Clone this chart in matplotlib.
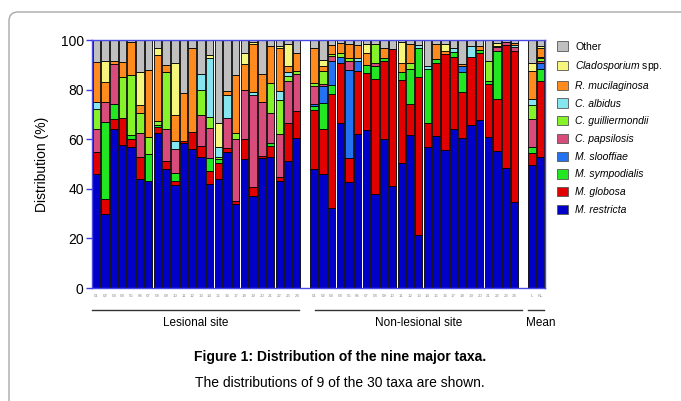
import numpy as np
import matplotlib.pyplot as plt
from matplotlib.patches import FancyBboxPatch, Patch
from matplotlib.transforms import IdentityTransform, blended_transform_factory

plt.rcParams['font.family'] = ['Liberation Sans', 'DejaVu Sans']
plt.rcParams['mathtext.fontset'] = 'custom'
plt.rcParams['mathtext.it'] = 'Liberation Sans:italic'
plt.rcParams['mathtext.rm'] = 'Liberation Sans'

#%% Data: 24 lesional, 24 non-lesional subjects, then mean L / NL (%)

tick_labels = ["%02d" % i for i in range(1, 25)] * 2 + ["L", "NL"]

restricta = [46, 30, 64, 57.7, 57, 44, 43.3, 62.4, 47.8, 41.5, 58.6, 56,
             53, 42, 43.8, 55, 33.9, 51.9, 37.1, 52.3, 52.7, 43.3, 51.3, 60.3,
             47.8, 46, 32.1, 66.7, 42.9, 62.1, 63.7, 37.9, 59.9, 41.1, 50.5, 61.7,
             21.4, 56.7, 61.3, 55.6, 64, 60.3, 65.7, 67.7, 61, 55.4, 48.3, 34.8,
             49.6, 52.7]
globosa = [9, 6, 4, 10.7, 3, 9, 0, 2.6, 3.5, 1.8, 0.5, 7,
           4.3, 5.3, 6.7, 1.3, 1.3, 8.1, 3.5, 0.9, 4.6, 1.6, 15.4, 11.2,
           24, 18, 46.1, 24.2, 9.4, 25.5, 23.1, 46.2, 31.8, 55.1, 33.4, 12.5,
           63.8, 9.7, 29.3, 38.8, 29.3, 18.9, 27.3, 27.2, 21.3, 20.7, 49.7, 60.9,
           4.7, 30.9]
sympodialis = [0, 31, 6, 0, 1.5, 0, 10.7, 0.7, 0, 2.9, 0, 0,
               0, 5, 1.4, 0, 0, 0, 0, 0, 1, 0, 0, 0,
               1.6, 10.5, 3.7, 0, 0, 0, 3.2, 5.4, 0.9, 0, 3.3, 14,
               11.4, 21.8, 1.6, 0, 2, 8, 0, 1.1, 1.3, 19.6, 0, 0,
               2.7, 4.6]
slooffiae = [0] * 24 + \
            [0.8, 7, 9.8, 2.4, 35.6, 4.1, 0, 0, 0, 0, 0, 0,
             0, 0, 0, 0, 0, 2.3, 0, 0, 0, 0, 0, 0,
             0, 2.7]
papsilosis = [9, 8, 16.5, 0, 0, 9.4, 0, 0, 12.7, 9.8, 0, 0,
              12.5, 12.1, 0, 12.1, 24.8, 20, 37.2, 21.9, 12.4, 17.2, 16.9, 14.8,
              7.3, 0.8, 1.8, 0, 3.8, 0, 0, 1.4, 0, 0, 0, 0,
              0, 0, 0, 0, 0, 0, 0, 0, 0, 1.3, 1.3, 1.6,
              11, 0.8]
guilliermondii = [8, 0, 0, 16.8, 24.5, 8, 7, 1.8, 23.2, 0, 0, 0,
                  10.2, 4.4, 0.8, 0, 2.4, 0, 0, 0, 12.1, 13.9, 1.9, 1.3,
                  1, 5.3, 0.7, 1.3, 0.9, 0, 0, 7.5, 0, 0, 0, 2.4,
                  0, 0, 0, 0, 0, 0, 0, 0, 8.1, 0, 0, 0,
                  5.8, 0.9]
albidus = [3, 0, 0, 0, 0, 0, 0, 0, 0, 3.4, 0, 0,
           6.3, 23.8, 4.3, 9.4, 0, 0, 1.4, 0, 0, 3.6, 1.7, 0,
           0, 0, 0, 0, 0, 0.9, 0, 0, 0, 0, 0, 0,
           1.4, 1.3, 0, 0, 1.3, 0, 4.6, 0, 0, 0.6, 0, 0.7,
           2.3, 0.7]
mucilaginosa = [16, 8, 1, 6, 13.3, 3.4, 27, 26.5, 2.8, 10.4, 19.6, 33.6,
                0, 0, 0, 1.6, 23.5, 10.3, 19.2, 11.2, 14.8, 17, 2.3, 7,
                14.1, 1.9, 3.8, 4.1, 5.8, 5.4, 4.9, 0, 4, 0, 3.7, 7.8,
                0, 0, 6.1, 1.3, 0, 1, 0, 1.6, 0, 0, 0, 0.9,
                11.5, 3.3]
cladosporium = [0, 8.5, 0, 0, 0, 13.2, 0, 2.6, 0, 20.8, 0, 0,
                0, 1.4, 9.7, 0, 0, 4.3, 0.6, 0, 0, 1, 8.9, 0,
                0, 2.5, 0, 0, 0, 0, 3.5, 0, 0, 0, 8.1, 0,
                0, 0, 0, 2.7, 0, 0, 0, 0, 0, 1.1, 0, 0,
                3, 1]

# stacking order, bottom -> top
series = [restricta, globosa, sympodialis, slooffiae, papsilosis,
          guilliermondii, albidus, mucilaginosa, cladosporium]
names = ["M. restricta", "M. globosa", "M. sympodialis", "M. slooffiae",
         "C. papsilosis", "C. guilliermondii", "C. albidus", "R. mucilaginosa",
         r"$\it{Cladosporium}$ spp.", "Other"]
colors = ["#0000c8", "#e00000", "#22e622", "#2272f2", "#d84c7c",
          "#86f22a", "#86e6f0", "#ff8a1e", "#f6f67c", "#c0c0c0"]

# "Other" is whatever is left up to 100 %
other = 100 - np.sum(np.array(series, dtype=float), axis=0)
series = series + [list(other)]

# x positions: lesional 0-23, gap, non-lesional 25-48, gap, means 50-51
xpos = np.concatenate([np.arange(24), np.arange(25, 49), [50, 51]])

#%% Plot

fig = plt.figure(figsize=(6.81, 4.01), dpi=100)

# rounded page frame
frame = FancyBboxPatch((9, -60), 740, 449, boxstyle="round,pad=0,rounding_size=9",
                       transform=IdentityTransform(), fc="white", ec="#a8a8a8",
                       lw=1.0, zorder=-10)
fig.patches.append(frame)

ax = fig.add_axes([92/681, 1 - 288/401, 453/681, 248/401])

bottom = np.zeros(len(xpos))
for vals, col in zip(series, colors):
    ax.bar(xpos, vals, bottom=bottom, width=0.86, color=col,
           edgecolor="black", linewidth=0.6)
    bottom += np.array(vals, dtype=float)

ax.set_xlim(-0.5, 51.5)
ax.set_ylim(0, 100)
ax.set_yticks([0, 20, 40, 60, 80, 100])
ax.set_xticks(xpos)
ax.set_xticklabels(tick_labels, fontsize=3.2, color="#909090")
ax.tick_params(axis="x", length=0, pad=4)
ax.tick_params(axis="y", direction="out", length=4, width=1, color="#3c3ce6",
               labelsize=10, pad=2)
for sp in ax.spines.values():
    sp.set_color("#4a4ae6")
    sp.set_linewidth(1.0)
ax.set_ylabel("Distribution (%)", fontsize=10, labelpad=8)

# group brackets under the x axis
trans = blended_transform_factory(ax.transData, ax.transAxes)
groups = [("Lesional site", -0.55, 23.3, 11.4), ("Non-lesional site", 25.1, 48.9, 37),
          ("Mean", 49.6, 51.4, 51.0)]
for label, x0, x1, xt in groups:
    ax.plot([x0, x1], [-0.089, -0.089], color="#333333", lw=1.0,
            transform=trans, clip_on=False)
    ax.text(xt, -0.142, label, transform=trans, ha="center",
            va="center", fontsize=8.5)

# legend, top entry first
handles = [Patch(facecolor=c, edgecolor="#555555", linewidth=0.6)
           for c in colors[::-1]]
leg = fig.legend(handles, names[::-1], loc="upper left",
                 bbox_to_anchor=(548/681, 1 - 32/401), frameon=False,
                 fontsize=7.5, handlelength=1.0, handleheight=1.0,
                 labelspacing=0.72, handletextpad=0.7)
for t, n in zip(leg.get_texts(), names[::-1]):
    if n.startswith(("M.", "C.", "R.")):
        t.set_style("italic")

# caption
fig.text(340/681, 1 - 357/401, "Figure 1: Distribution of the nine major taxa.",
         ha="center", va="center", fontsize=10, fontweight="bold")
fig.text(340/681, 1 - 383/401, "The distributions of 9 of the 30 taxa are shown.",
         ha="center", va="center", fontsize=10)

fig.savefig("out.png", dpi=100)
